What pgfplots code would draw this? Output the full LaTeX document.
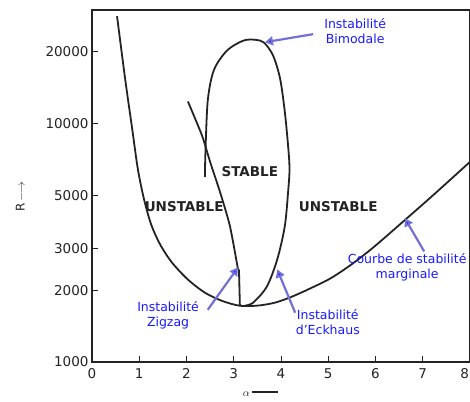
\documentclass[border=0pt]{standalone}
\usepackage{fontspec}
\setmainfont{DejaVu Sans}
\usepackage{pgfplots}
\pgfplotsset{compat=1.18}
\usetikzlibrary{arrows.meta}

\definecolor{annot}{RGB}{25,25,255}
\definecolor{arrowc}{RGB}{112,112,215}
\definecolor{ink}{RGB}{35,35,35}

\begin{document}
\begin{tikzpicture}
\begin{axis}[
  scale only axis, width=378pt, height=352pt,
  ymode=log, xmin=0, xmax=8, ymin=1000, ymax=30000,
  xtick={0,1,...,8},
  xticklabels={0,1,2,3,4,5,6,7,{\makebox[0pt][r]{8\hspace{1pt}}}},
  ytick={1000,2000,3000,5000,10000,20000},
  yticklabels={1000,2000,3000,5000,10000,20000},
  yminorticks=false,
  xtick pos=bottom, ytick pos=left,
  major tick length=6pt,
  tick style={ink, line width=1pt},
  axis line style={ink, line width=1.4pt},
  tick label style={font=\fontsize{13.5}{13.5}\selectfont, text=ink},
  xticklabel style={yshift=-3pt},
  /pgf/number format/assume math mode=true,
  xlabel={$\alpha$\,\rule[0.6ex]{26pt}{1.3pt}},
  xlabel style={font=\fontsize{11}{11}\selectfont, text=ink, at={(axis description cs:0.445,-0.09)}, anchor=center},
  ylabel={R\,$\longrightarrow$},
  ylabel style={font=\fontsize{12}{12}\selectfont, text=ink, at={(axis description cs:-0.19,0.47)}, anchor=center},
  clip=false,
]
% courbe de stabilite marginale
\addplot[ink, line width=1.8pt, smooth, tension=0.5] coordinates {
  (0.53,28250) (0.70,15490) (0.85,9530) (0.97,6457) (1.10,4827)
  (1.25,3787) (1.44,3118) (1.69,2618) (2.03,2218) (2.39,1954)
  (2.75,1806) (3.13,1722) (3.51,1725) (3.87,1774) (4.23,1880)
  (4.61,2032) (5.04,2239) (5.46,2541) (5.93,2998) (6.52,3785)
  (7.22,5012) (8.00,6918)
};
% instabilite bimodale / Eckhaus (boucle)
\addplot[ink, line width=1.8pt, smooth, tension=0.5] coordinates {
  (2.39,5975) (2.40,7500) (2.45,12500) (2.58,16800) (2.86,20300)
  (3.20,22300) (3.45,22500) (3.64,21900) (3.83,19360) (3.98,15490)
  (4.08,11240) (4.15,8075) (4.18,6460) (4.15,5165) (4.08,3711)
  (3.92,2693) (3.70,2072) (3.41,1774) (3.24,1725)
};
% instabilite zigzag
\addplot[ink, line width=1.8pt, smooth, tension=0.4] coordinates {
  (2.03,12390) (2.33,8900) (2.50,6910) (2.71,5165) (2.92,3711) (3.09,2445)
};
\addplot[ink, line width=1.8pt] coordinates {(3.11,2445) (3.13,1725)};

\node[font=\bfseries\fontsize{13.5}{13.5}\selectfont, text=ink] at (axis cs:3.34,6270) {STABLE};
\node[font=\bfseries\fontsize{13.5}{13.5}\selectfont, text=ink] at (axis cs:1.95,4508) {UNSTABLE};
\node[font=\bfseries\fontsize{13.5}{13.5}\selectfont, text=ink] at (axis cs:5.21,4508) {UNSTABLE};

\begin{scope}[every node/.style={font=\fontsize{12.5}{15}\selectfont, text=annot, align=center}]
\node at (axis cs:5.57,24440) {Instabilité\\Bimodale};
\node at (axis cs:1.61,1564) {Instabilité\\Zigzag};
\node at (axis cs:4.99,1475) {Instabilité\\d'Eckhaus};
\node at (axis cs:6.67,2493) {Courbe de stabilité\\marginale};
\end{scope}
\begin{scope}[arrowc, line width=2.2pt, -{Triangle[length=8pt,width=9pt,fill=annot]}]
\draw (axis cs:4.68,23750) -- (axis cs:3.66,21970);
\draw (axis cs:2.45,1657) -- (axis cs:3.09,2493);
\draw (axis cs:4.30,1610) -- (axis cs:3.92,2445);
\draw (axis cs:7.03,2911) -- (axis cs:6.62,4011);
\end{scope}
\end{axis}
\pgfresetboundingbox
\path ([xshift=-92pt,yshift=-39pt]current axis.south west) rectangle ([yshift=10pt]current axis.north east);
\end{tikzpicture}
\end{document}
